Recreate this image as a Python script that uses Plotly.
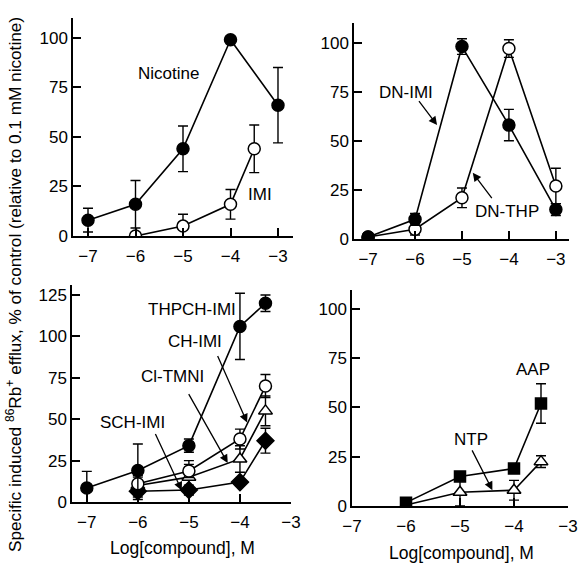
import plotly.graph_objects as go
from plotly.subplots import make_subplots

# ---------------- data ----------------
# Panel A (top-left)
nic_x = [-7, -6, -5, -4, -3]
nic_y = [8, 16, 44, 99, 66]
nic_e = [6, 12, 11.5, 0, 19]
imi_x = [-6, -5, -4, -3.5]
imi_y = [0, 5, 16, 44]
imi_e = [0, 6, 7.5, 12]

# Panel B (top-right)
dnimi_x = [-7, -6, -5, -4, -3]
dnimi_y = [1, 10, 98, 58, 15]
dnimi_e = [1, 3, 4, 8, 3]
dnthp_x = [-7, -6, -5, -4, -3]
dnthp_y = [1, 5, 21, 97, 27]
dnthp_e = [2, 3, 5, 4.5, 9]

# Panel C (bottom-left)
thpch_x = [-7, -6, -5, -4, -3.5]
thpch_y = [8.5, 19, 34, 106, 120]
thpch_e = [10, 16, 4, 20, 5]
chimi_x = [-6, -5, -4, -3.5]
chimi_y = [11, 18.7, 38, 70]
chimi_e = [5, 4, 6, 7]
cltmni_x = [-6, -5, -4, -3.5]
cltmni_y = [10, 15, 26, 55]
cltmni_e = [5, 10, 8, 9]
schimi_x = [-6, -5, -4, -3.5]
schimi_y = [6.5, 7.2, 12, 37]
schimi_e = [5, 3, 2, 7.5]

# Panel D (bottom-right)
aap_x = [-6, -5, -4, -3.5]
aap_y = [1.7, 15, 19, 52]
aap_e = [0, 0, 0, 10]
ntp_x = [-6, -5, -4, -3.5]
ntp_y = [0.5, 7, 8, 22.5]
ntp_e = [0, 7, 5, 3]

x_ticks = [-7, -6, -5, -4, -3]
y_ticks_100 = [0, 25, 50, 75, 100]
y_ticks_125 = [0, 25, 50, 75, 100, 125]

FONT = "Liberation Sans, Arial, sans-serif"
W, H = 580, 571

fig = make_subplots(rows=2, cols=2)


def add(x, y, e, sym, row, col, fill=True, size=12):
    fig.add_trace(go.Scatter(
        x=x, y=y, mode="lines+markers",
        line=dict(color="black", width=1.6),
        marker=dict(symbol=sym, size=size,
                    color="black" if fill else "white",
                    line=dict(color="black", width=1.5)),
        error_y=dict(type="data", array=e, color="black", thickness=1.4, width=5),
        showlegend=False,
    ), row=row, col=col)


add(imi_x, imi_y, imi_e, "circle", 1, 1, fill=False)
add(nic_x, nic_y, nic_e, "circle", 1, 1)
add(dnthp_x, dnthp_y, dnthp_e, "circle", 1, 2, fill=False)
add(dnimi_x, dnimi_y, dnimi_e, "circle", 1, 2)
add(schimi_x, schimi_y, schimi_e, "diamond", 2, 1, size=13)
add(cltmni_x, cltmni_y, cltmni_e, "triangle-up", 2, 1, fill=False)
add(chimi_x, chimi_y, chimi_e, "circle", 2, 1, fill=False)
add(thpch_x, thpch_y, thpch_e, "circle", 2, 1)
add(ntp_x, ntp_y, ntp_e, "triangle-up", 2, 2, fill=False)
add(aap_x, aap_y, aap_e, "square", 2, 2, size=11)


def px_x(p):
    return p / W


def px_y(p):
    return (H - p) / H


axis_common = dict(showline=True, linecolor="black", linewidth=1.5,
                   ticks="inside", ticklen=8, tickwidth=1.5, tickcolor="black",
                   showgrid=False, zeroline=False, ticklabeloverflow="allow",
                   tickfont=dict(family=FONT, size=17, color="black"))
xa = dict(axis_common, ticklabelstandoff=4)

fig.update_layout(
    xaxis=dict(domain=[px_x(73), px_x(293)], range=[-7.316, -2.684], tickvals=x_ticks,
               anchor="y", **xa),
    yaxis=dict(domain=[px_y(236), px_y(18)], range=[0, 110], tickvals=y_ticks_100,
               anchor="x", **axis_common),
    xaxis2=dict(domain=[px_x(354), px_x(569)], range=[-7.30, -2.72], tickvals=x_ticks,
                anchor="y2", **xa),
    yaxis2=dict(domain=[px_y(239), px_y(23)], range=[0, 110], tickvals=y_ticks_100,
                anchor="x2", **axis_common),
    xaxis3=dict(domain=[px_x(72), px_x(291)], range=[-7.29, -3.0], tickvals=x_ticks,
                anchor="y3", **xa),
    yaxis3=dict(domain=[px_y(502), px_y(285)], range=[0, 131], tickvals=y_ticks_125,
                anchor="x3", **axis_common),
    xaxis4=dict(domain=[px_x(352), px_x(568)], range=[-7.0, -3.0], tickvals=x_ticks,
                anchor="y4", **xa),
    yaxis4=dict(domain=[px_y(506), px_y(290)], range=[0, 109.6], tickvals=y_ticks_100,
                anchor="x4", **axis_common),
)

annots = []


def label(text, x, y, xr, yr, size=17):
    annots.append(dict(text=text, x=x, y=y, xref=xr, yref=yr, showarrow=False,
                       font=dict(family=FONT, size=size, color="black"),
                       xanchor="center", yanchor="middle"))


def arrow(tx, ty, hx, hy, xr, yr):
    annots.append(dict(text="", x=hx, y=hy, ax=tx, ay=ty, xref=xr, yref=yr,
                       axref=xr, ayref=yr, showarrow=True, arrowhead=2,
                       arrowsize=1.3, arrowwidth=1.3, arrowcolor="black",
                       standoff=0, startstandoff=0))


label("Nicotine", -5.3, 82, "x", "y")
label("IMI", -3.38, 21, "x", "y")
label("DN-IMI", -6.19, 74.5, "x2", "y2")
arrow(-5.94, 71, -5.53, 58, "x2", "y2")
label("DN-THP", -4.04, 14, "x2", "y2")
arrow(-4.34, 20, -4.77, 33.7, "x2", "y2")
label("THPCH-IMI", -4.94, 116.5, "x3", "y3")
label("CH-IMI", -4.88, 97, "x3", "y3")
arrow(-4.45, 89, -3.86, 48, "x3", "y3")
label("Cl-TMNI", -5.33, 75.5, "x3", "y3")
arrow(-5.02, 66, -4.24, 23.5, "x3", "y3")
label("SCH-IMI", -6.1, 47.7, "x3", "y3")
arrow(-5.67, 42, -5.14, 7, "x3", "y3")
label("AAP", -3.64, 69.5, "x4", "y4")
label("NTP", -4.79, 33.5, "x4", "y4")
arrow(-4.79, 29, -4.4, 8, "x4", "y4")

# axis titles
annots.append(dict(text="Log[compound], M", x=px_x(182), y=px_y(548), xref="paper", yref="paper",
                   showarrow=False, font=dict(family=FONT, size=17.5, color="black"),
                   xanchor="center", yanchor="middle"))
annots.append(dict(text="Log[compound], M", x=px_x(461), y=px_y(553), xref="paper", yref="paper",
                   showarrow=False, font=dict(family=FONT, size=17.5, color="black"),
                   xanchor="center", yanchor="middle"))
annots.append(dict(text="Specific induced <sup>86</sup>Rb<sup>+</sup> efflux, % of control (relative to 0.1 mM nicotine)",
                   x=px_x(14), y=px_y(285), xref="paper", yref="paper", textangle=-90,
                   showarrow=False, font=dict(family=FONT, size=17.2, color="black"),
                   xanchor="center", yanchor="middle"))

fig.update_layout(annotations=annots, width=W, height=H,
                  margin=dict(l=0, r=0, t=0, b=0, autoexpand=False),
                  plot_bgcolor="white", paper_bgcolor="white",
                  font=dict(family=FONT, color="black"))

fig.write_html("out.html", config={"displayModeBar": False},
               post_script="document.body.style.margin='0px';document.body.style.overflow='hidden';")
